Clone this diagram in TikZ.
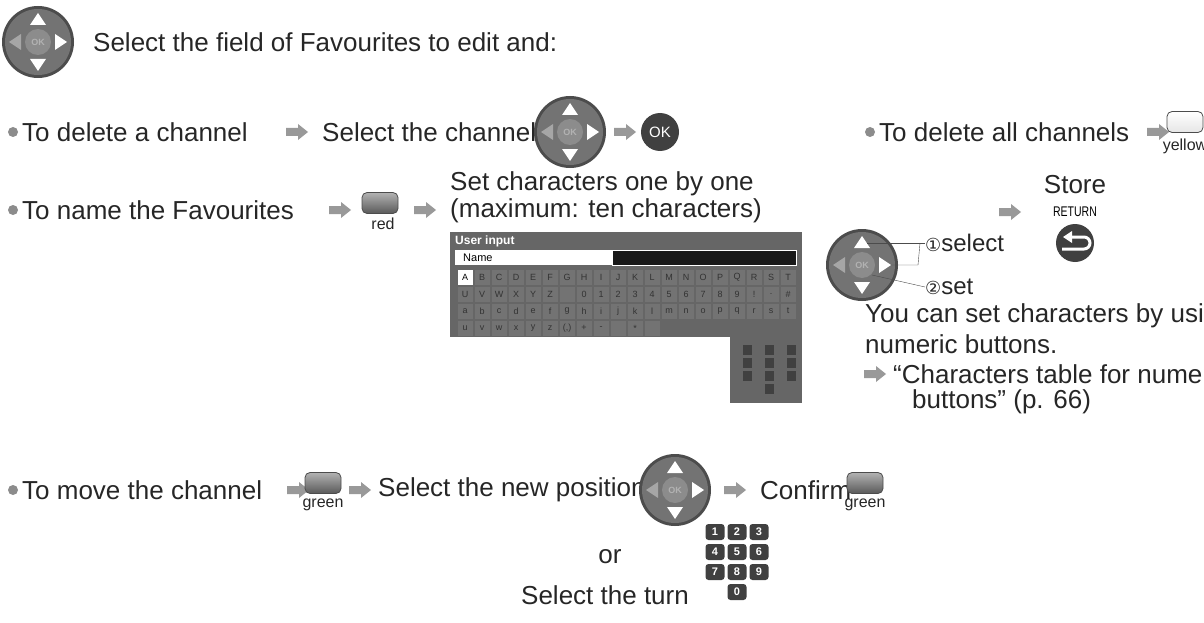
\documentclass[tikz,border=0pt]{standalone}
\usepackage{fontspec}
\setmainfont{Liberation Sans}
\newfontfamily\symf{DejaVu Sans}
\begin{document}
\begin{tikzpicture}[x=1pt,y=-1pt,
  txt/.style={inner sep=0pt,anchor=west,font=\fontsize{26}{30}\selectfont,text=black!85},
  small/.style={inner sep=0pt,font=\fontsize{16}{18}\selectfont,text=black!85},
  bul/.style={circle,fill=black!45,inner sep=0pt,minimum size=10pt},
  btn/.style={rounded corners=5pt,draw=black!70,thick,top color=black!30,bottom color=black!65,minimum width=36pt,minimum height=21pt,inner sep=0pt},
  key/.style={draw=black!60,fill=black!55,minimum width=16.5pt,minimum height=16pt,inner sep=0pt,font=\fontsize{9}{9}\selectfont,text=black!80},
  nkey/.style={rounded corners=3pt,fill=black!75,minimum width=19pt,minimum height=16pt,inner sep=0pt,font=\bfseries\fontsize{11}{11}\selectfont,text=white},
  dpad/.pic={
    \fill[black!70] (0,0) circle (36);
    \fill[black!55] (0,0) circle (33);
    \fill[black!45] (0,0) circle (13);
    \node[text=black!30,font=\bfseries\fontsize{9}{9}\selectfont] at (0,0) {OK};
    \fill[white] (0,-29)--(-8,-17)--(8,-17)--cycle;
    \fill[white] (0,29)--(-8,17)--(8,17)--cycle;
    \fill[white] (29,0)--(17,-8)--(17,8)--cycle;
    \fill[black!35] (-29,0)--(-17,-8)--(-17,8)--cycle;
  },
  arr/.pic={\fill[black!40] (-11,-4)--(1,-4)--(1,-8)--(11,0)--(1,8)--(1,4)--(-11,4)--cycle;}
]
\useasboundingbox (0,0) rectangle (1204,623);
% row 1
\pic at (38,42) {dpad};
\node[txt] (t1) at (93,42) {Select the field of Favourites to edit and:};
% row 2
\node[bul] (b2) at (13,132) {};
\node[txt] (t2) at (22,132) {To delete a channel};
\pic at (297,132) {arr};
\node[txt] (t2b) at (322,132) {Select the channel};
\pic at (570,132) {dpad};
\pic at (625,132) {arr};
\node[circle,fill=black!75,minimum size=38pt,inner sep=0pt,text=white,font=\fontsize{15}{15}\selectfont] (ok) at (660,132) {OK};
\node[bul] (b2r) at (870,132) {};
\node[txt] (t2r) at (879,132) {To delete all channels};
\pic at (1158,132) {arr};
\node[btn,top color=white,bottom color=black!10] (yel) at (1185,122) {};
\node[small] (yell) at (1185,146) {yellow};
% row 3
\node[bul] (b3) at (13,210) {};
\node[txt] (t3) at (22,210) {To name the Favourites};
\pic at (340,210) {arr};
\node[btn] (red) at (380,203) {};
\node[small] (redl) at (383,224) {red};
\pic at (425,210) {arr};
\node[txt] (sc1) at (450,184) {Set characters one by one};
\node[txt] (sc2) at (450,211) {(maximum: ten characters)};
% user input panel
\fill[black!60] (450,232) rectangle (802,337);
\fill[black!60] (730,337) rectangle (802,403);
\node[inner sep=0pt,anchor=west,text=white,font=\bfseries\fontsize{12}{12}\selectfont] (ui) at (455,241) {User input};
\fill[white] (455,250) rectangle (612,265);
\fill[black!90] (612,250) rectangle (796,265);
\draw[white,thick] (796,250) rectangle (612,265);
\node[inner sep=0pt,anchor=west,font=\fontsize{11}{11}\selectfont] (nm) at (463,258) {Name};
\foreach \r/\lst in {0/{A,B,C,D,E,F,G,H,I,J,K,L,M,N,O,P,Q,R,S,T},1/{U,V,W,X,Y,Z, ,0,1,2,3,4,5,6,7,8,9,!,.,\#},2/{a,b,c,d,e,f,g,h,i,j,k,l,m,n,o,p,q,r,s,t}}{
  \foreach \c [count=\i from 0] in \lst {\node[key] (k\r-\i) at (465+\i*17,277+\r*17) {\c};}}
\foreach \c [count=\i from 0] in {u,v,w,x,y,z,(,),+,-, ,*, } {\node[key] (k3-\i) at (465+\i*17,328) {\c};}
\node[key,fill=white,text=black] (kA) at (465,277) {A};
\foreach \i in {0,1,2}{\foreach \j in {0,1,2}{\node[fill=black!75,minimum width=9pt,minimum height=10pt,inner sep=0pt] (nk\i\j) at (747+\i*22,350+\j*13) {};}}
\node[fill=black!75,minimum width=9pt,minimum height=10pt,inner sep=0pt] (nk0) at (769,389) {};
% select/set
\pic at (862,265) {dpad};
\node[txt,font=\fontsize{24}{28}\selectfont] (sel) at (925,243) {{\symf\fontsize{18}{18}\selectfont ①}select};
\node[txt,font=\fontsize{24}{28}\selectfont] (set) at (925,287) {{\symf\fontsize{18}{18}\selectfont ②}set};
\draw[black!70] (867,243) -- (sel.west);
\draw[black!70] (891,265) -- (918,265) -- (920,243);
\draw[black!70] (872,275) -- (sel.west |- set) -- (set.west);
\pic at (1010,212) {arr};
\node[txt,anchor=center] (store) at (1075,185) {Store};
\node[inner sep=0pt,font=\fontsize{14}{14}\selectfont\addfontfeature{FakeStretch=0.75}] (ret) at (1075,212) {RETURN};
\node[circle,fill=black!75,minimum size=38pt,inner sep=0pt] (retb) at (1075,243) {};
\draw[white,line width=3pt] (1062,249) -- (1084,249) arc (-90:90:6pt) -- (1070,237);
\fill[white] (1063,237) -- (1072,231) -- (1072,243) -- cycle;
\node[txt] (y1) at (865,316) {You can set characters by using};
\node[txt] (y2) at (865,344) {numeric buttons.};
\pic at (875,374) {arr};
\node[txt] (y3) at (893,374) {“Characters table for numeric};
\node[txt] (y4) at (912,402) {buttons” (p. 66)};
% row 4
\node[bul] (b4) at (13,490) {};
\node[txt] (t4) at (22,490) {To move the channel};
\pic at (298,490) {arr};
\node[btn] (gr1) at (323,483) {};
\node[small] (gr1l) at (323,505) {green};
\pic at (360,490) {arr};
\node[txt] (t4b) at (378,490) {Select the new position};
\pic at (675,490) {dpad};
\pic at (735,490) {arr};
\node[txt] (conf) at (760,490) {Confirm};
\node[btn] (gr2) at (865,483) {};
\node[small] (gr2l) at (865,505) {green};
\node[txt,anchor=center] (or) at (610,557) {or};
\node[txt,anchor=center] (turn) at (605,595) {Select the turn};
\foreach \r in {0,1,2}{\foreach \c in {0,1,2}{
  \pgfmathtruncatemacro\n{\r*3+\c+1}
  \node[nkey] (n\n) at (715+\c*22,532+\r*20) {\n};}}
\node[nkey] (n0) at (737,592) {0};
\end{tikzpicture}
\end{document}
